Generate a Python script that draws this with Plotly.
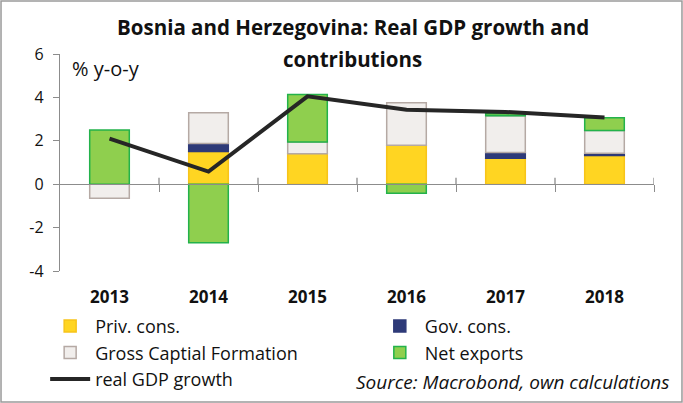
import plotly.graph_objects as go

years = ["2013", "2014", "2015", "2016", "2017", "2018"]
priv_cons = [0.0, 1.51, 1.40, 1.80, 1.20, 1.32]
gov_cons = [0.0, 0.36, 0.0, 0.0, 0.26, 0.11]
gcf = [-0.65, 1.42, 0.54, 1.95, 1.70, 1.05]
net_exports = [2.50, -2.70, 2.19, -0.42, 0.09, 0.58]
gdp_growth = [2.10, 0.58, 4.05, 3.43, 3.33, 3.07]
y_ticks = [-4, -2, 0, 2, 4, 6]
y_ticktext = ["-4", "-2", "0", "2", "4", "6"]

xpos = list(range(len(years)))
FONT = "Open Sans"
TXT = "#111111"

def nz(v):
    return [None if a == 0 else a for a in v]

fig = go.Figure()
fig.add_bar(x=xpos, y=nz(priv_cons), name="Priv. cons.", legend="legend", legendgroup="a",
            marker=dict(color="#FFD522", line=dict(color="#F7C41A", width=1.5)))
fig.add_bar(x=xpos, y=nz(gov_cons), name="Gov. cons.", legend="legend2", legendgroup="b",
            marker=dict(color="#2E3A78", line=dict(color="#2E3A78", width=1.5)))
fig.add_bar(x=xpos, y=nz(gcf), name="Gross Captial Formation", legend="legend", legendgroup="c",
            marker=dict(color="#F1EEEC", line=dict(color="#B5A9A4", width=1.5)))
fig.add_bar(x=xpos, y=nz(net_exports), name="Net exports", legend="legend2", legendgroup="d",
            marker=dict(color="#8FCF4E", line=dict(color="#23B24B", width=1.5)))
fig.add_scatter(x=xpos, y=gdp_growth, name="real GDP growth", mode="lines",
                legend="legend", legendgroup="e", line=dict(color="#262626", width=4))

# invisible trace on the crossing-tick axis
fig.add_scatter(x=[xpos[0]], y=[0], xaxis="x2", mode="markers",
                marker=dict(opacity=0), showlegend=False, hoverinfo="skip")

legend_common = dict(orientation="v", xanchor="left", yanchor="top",
                     tracegroupgap=1, itemwidth=40, traceorder="normal",
                     font=dict(family=FONT, size=18, color=TXT),
                     bgcolor="rgba(0,0,0,0)")

fig.update_layout(
    width=683, height=403,
    margin=dict(l=60, r=29, t=54, b=132, autoexpand=False),
    paper_bgcolor="white", plot_bgcolor="white",
    barmode="relative", bargap=0.6,
    font=dict(family=FONT, size=15, color=TXT),
    showlegend=True,
    legend=dict(x=-0.025, y=-0.17, **legend_common),
    legend2=dict(x=0.53, y=-0.17, **legend_common),
    xaxis=dict(range=[-0.5, 5.5], tickvals=xpos, ticktext=years,
               showgrid=False, zeroline=False, showline=False,
               ticks="", ticklabelstandoff=14,
               tickfont=dict(family=FONT, size=17, color=TXT, weight="bold")),
    xaxis2=dict(range=[-0.5, 5.5], overlaying="x", anchor="free", position=0.4,
                tickvals=[0.5, 1.5, 2.5, 3.5, 4.5, 5.5], showticklabels=False,
                ticks="outside", ticklen=7, tickcolor="#8c8c8c", tickwidth=1.3,
                showgrid=False, zeroline=False, showline=True,
                linecolor="#8c8c8c", linewidth=1.3),
    yaxis=dict(range=[-4, 6], tickvals=y_ticks, ticktext=y_ticktext,
               showgrid=False, zeroline=False, showline=True,
               linecolor="#8c8c8c", linewidth=1.3,
               ticks="outside", ticklen=6, tickcolor="#8c8c8c",
               ticklabelstandoff=6,
               tickfont=dict(family=FONT, size=16, color=TXT)),
)

# upward half of the crossing ticks
for v in [0.5, 1.5, 2.5, 3.5, 4.5, 5.5]:
    fig.add_shape(type="line", xref="x", yref="y", x0=v, x1=v, y0=0, y1=0.3,
                  line=dict(color="#8c8c8c", width=1.3))

fig.add_annotation(text="<b>Bosnia and Herzegovina: Real GDP growth and</b>",
                   xref="paper", yref="paper", x=0.493, y=1.124, showarrow=False,
                   xanchor="center", yanchor="middle",
                   font=dict(family=FONT, size=20.5, color=TXT))
fig.add_annotation(text="<b>contributions</b>",
                   xref="paper", yref="paper", x=0.493, y=0.977, showarrow=False,
                   xanchor="center", yanchor="middle",
                   font=dict(family=FONT, size=20.5, color=TXT))
fig.add_annotation(text="% y-o-y", xref="paper", yref="paper", x=0.016, y=0.931,
                   showarrow=False, xanchor="left", yanchor="middle",
                   font=dict(family=FONT, size=20, color=TXT))
fig.add_annotation(text="<i>Source: Macrobond, own calculations</i>",
                   xref="paper", yref="paper", x=1.03, y=-0.512, showarrow=False,
                   xanchor="right", yanchor="middle",
                   font=dict(family=FONT, size=19, color=TXT))

# outer frame
fig.add_shape(type="rect", xref="paper", yref="paper",
              x0=-0.0993, x1=1.0471, y0=-0.6037, y1=1.244,
              line=dict(color="#9a9a9a", width=1.5), layer="below")

fig.write_html("out.html", config={"displayModeBar": False},
               post_script="document.body.style.margin='0';")
